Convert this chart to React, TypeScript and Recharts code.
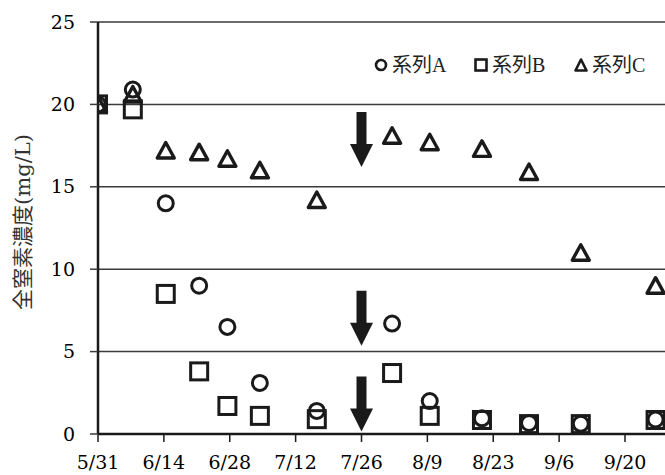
import React from "react";
import { CartesianGrid, Scatter, ScatterChart, XAxis, YAxis } from "recharts";

// days counted from 5/31
const sampleDays = [0, 7.4, 14.4, 21.5, 27.5, 34.4, 46.5, 62.5, 70.5, 81.6, 91.6, 102.6, 118.5];
const seriesA = [20.0, 20.9, 14.0, 9.0, 6.5, 3.1, 1.4, 6.7, 2.0, 0.95, 0.67, 0.62, 0.88];
const seriesB = [20.0, 19.7, 8.5, 3.8, 1.7, 1.1, 0.9, 3.7, 1.1, 0.85, 0.6, 0.6, 0.85];
const seriesC = [20.0, 20.6, 17.2, 17.1, 16.7, 16.0, 14.2, 18.1, 17.7, 17.3, 15.9, 11.0, 9.0];

const xTicks = [0, 14, 28, 42, 56, 70, 84, 98, 112];
const xTickLabels = ["5/31", "6/14", "6/28", "7/12", "7/26", "8/9", "8/23", "9/6", "9/20"];
const yTicks = [0, 5, 10, 15, 20, 25];

// downward arrows marking 7/26, value = arrow tip
const arrowDays = [56, 56, 56];
const arrowTips = [16.2, 5.35, 0.15];

const legendNames = ["系列A", "系列B", "系列C"];

const INK = "#1a1a1a";
const SERIF = "'DejaVu Serif', 'Noto Sans CJK JP', serif";

const toPoints = (vals: number[]) => sampleDays.map((d, i) => ({ day: d, value: vals[i] }));
const pointsA = toPoints(seriesA);
const pointsB = toPoints(seriesB);
const pointsC = toPoints(seriesC);
const arrowPoints = arrowDays.map((d, i) => ({ day: d, value: arrowTips[i] }));

const CircleMark = (p: any) => (
  <circle cx={p.cx} cy={p.cy} r={7.5} fill="none" stroke={INK} strokeWidth={3} />
);
const SquareMark = (p: any) => (
  <rect x={p.cx - 8.5} y={p.cy - 8.5} width={17} height={17} fill="none" stroke={INK} strokeWidth={3} />
);
const TriangleMark = (p: any) => (
  <polygon
    points={`${p.cx},${p.cy - 8} ${p.cx + 8.5},${p.cy + 7.5} ${p.cx - 8.5},${p.cy + 7.5}`}
    fill="none"
    stroke={INK}
    strokeWidth={3.4}
    strokeLinejoin="round"
  />
);
const ArrowMark = (p: any) => {
  const { cx, cy } = p;
  const len = 55, head = 23, hw = 11.5, sw = 5;
  const d = `M${cx - sw},${cy - len} L${cx + sw},${cy - len} L${cx + sw},${cy - head} L${cx + hw},${cy - head} L${cx},${cy} L${cx - hw},${cy - head} L${cx - sw},${cy - head} Z`;
  return <path d={d} fill={INK} />;
};

const XTick = (p: any) => (
  <text x={p.x} y={p.y} dy={13} textAnchor="middle" fill="#000" style={{ fontFamily: SERIF, fontSize: 19 }}>
    {xTickLabels[xTicks.indexOf(p.payload.value)] ?? ""}
  </text>
);
const YTick = (p: any) => (
  <text x={p.x} y={p.y} dy={6.5} textAnchor="end" fill="#000" style={{ fontFamily: SERIF, fontSize: 19 }}>
    {p.payload.value}
  </text>
);

const YTitle = (props: any) => {
  const vb = props.viewBox ?? { x: 0, y: 0, height: 0 };
  return (
    <text
      transform={`translate(${vb.x + 23}, ${vb.y + vb.height / 2 - 6}) rotate(-90)`}
      textAnchor="middle"
      dominantBaseline="central"
      fill="#333"
      style={{ fontFamily: SERIF, fontSize: 21 }}
    >
      全窒素濃度(mg/L)
    </text>
  );
};

const legendIcons = [
  <circle cx={7} cy={7} r={5} fill="none" stroke={INK} strokeWidth={2.6} />,
  <rect x={1.5} y={1.5} width={11} height={11} fill="none" stroke={INK} strokeWidth={2.6} />,
  <polygon points="7,1.5 12.5,12.5 1.5,12.5" fill="none" stroke={INK} strokeWidth={2.6} strokeLinejoin="round" />,
];

export default function App() {
  return (
    <div style={{ position: "absolute", left: 0, top: 0, width: 665, height: 475, background: "#fff", fontFamily: SERIF }}>
      <ScatterChart width={665} height={475} margin={{ top: 22, right: 0, left: 0, bottom: 0 }}>
        <CartesianGrid horizontal vertical={false} stroke="#3a3a3a" strokeWidth={1.5} />
        <XAxis
          dataKey="day"
          type="number"
          domain={[0, 120.5]}
          ticks={xTicks}
          allowDataOverflow
          height={41}
          tickSize={8}
          tickMargin={14}
          axisLine={{ stroke: INK, strokeWidth: 2.5 }}
          tickLine={{ stroke: INK, strokeWidth: 1.5 }}
          tick={<XTick />}
        />
        <YAxis
          dataKey="value"
          type="number"
          domain={[0, 25]}
          ticks={yTicks}
          width={98}
          tickSize={8}
          tickMargin={15}
          axisLine={{ stroke: INK, strokeWidth: 2.5 }}
          tickLine={{ stroke: "#3a3a3a", strokeWidth: 1.5 }}
          tick={<YTick />}
          label={<YTitle />}
        />
        <Scatter data={pointsA} shape={CircleMark} isAnimationActive={false} />
        <Scatter data={pointsB} shape={SquareMark} isAnimationActive={false} />
        <Scatter data={pointsC} shape={TriangleMark} isAnimationActive={false} />
        <Scatter data={arrowPoints} shape={ArrowMark} isAnimationActive={false} />
      </ScatterChart>
      <div
        style={{
          position: "absolute",
          left: 374,
          top: 52,
          display: "flex",
          fontFamily: "'Liberation Serif', 'Noto Sans CJK JP', serif",
          fontSize: 20,
          color: "#222",
          lineHeight: "26px",
        }}
      >
        {legendNames.map((n, i) => (
          <div key={n} style={{ display: "flex", alignItems: "center", width: 100 }}>
            <svg width={14} height={14} style={{ marginRight: 4 }}>
              {legendIcons[i]}
            </svg>
            <span>{n}</span>
          </div>
        ))}
      </div>
    </div>
  );
}
